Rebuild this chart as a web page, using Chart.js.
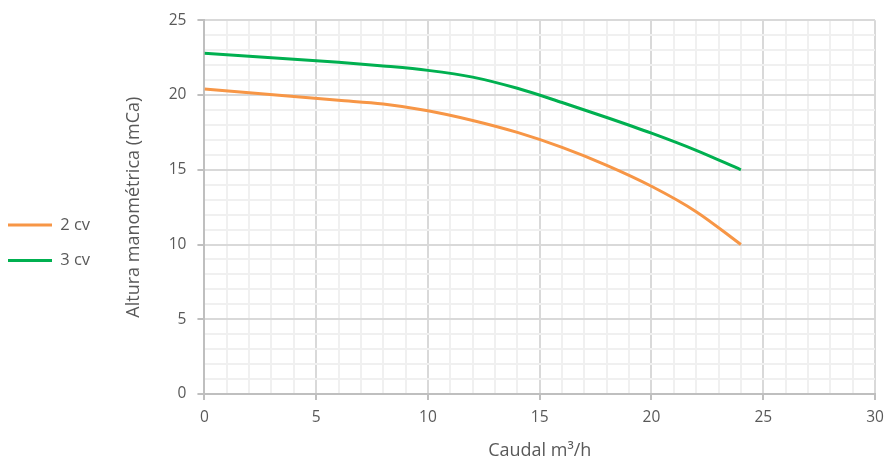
<!DOCTYPE html>
<html>
<head>
<meta charset="utf-8">
<script src="https://cdn.jsdelivr.net/npm/chart.js@4.4.1/dist/chart.umd.min.js"></script>
<style>
  html, body { margin: 0; padding: 0; background: #fff; }
  #wrap { width: 889px; height: 459px; }
</style>
</head>
<body>
<div id="wrap"><canvas id="curvas"></canvas></div>
<script>
// caudal (m3/h) and altura (mCa)
const caudal = [0, 2, 4, 6, 8, 10, 12, 14, 16, 18, 20, 22, 24];
const dosCv  = [20.4, 20.15, 19.9, 19.65, 19.4, 18.95, 18.3, 17.5, 16.5, 15.3, 13.9, 12.2, 10.0];
const tresCv = [22.8, 22.6, 22.4, 22.2, 21.95, 21.65, 21.2, 20.45, 19.5, 18.5, 17.45, 16.3, 15.0];
const seriesNames = ['2 cv', '3 cv'];
const xTicks = [0, 5, 10, 15, 20, 25, 30];
const yTicks = [0, 5, 10, 15, 20, 25];

const toPoints = ys => caudal.map((c, i) => ({ x: c, y: ys[i] }));
const gridColor = ctx => (ctx.tick && ctx.tick.value % 5 === 0) ? '#d9d9d9' : '#f0f0f0';
const tickColor = ctx => (ctx.tick && ctx.tick.value % 5 === 0) ? '#bfbfbf' : 'rgba(0,0,0,0)';
const font = { family: 'Open Sans', size: 15.5 };
const titleFont = { family: 'Open Sans', size: 18 };

// move the legend down / left like in the excel original
const legendShift = {
    id: 'legendShift',
    afterLayout(chart) {
        const lg = chart.legend;
        lg.top += 7; lg.bottom += 7;
        lg.left -= 11; lg.right -= 11;
    }
};

const ctx = document.getElementById('curvas').getContext('2d');
const chart = new Chart(ctx, {
    type: 'line',
    data: {
        datasets: [{
            label: seriesNames[0],
            data: toPoints(dosCv),
            borderColor: '#f79646',
            backgroundColor: '#f79646',
            borderWidth: 3,
            pointRadius: 0,
            tension: 0.4,
            cubicInterpolationMode: 'monotone'
        }, {
            label: seriesNames[1],
            data: toPoints(tresCv),
            borderColor: '#00b050',
            backgroundColor: '#00b050',
            borderWidth: 3,
            pointRadius: 0,
            tension: 0.4,
            cubicInterpolationMode: 'monotone'
        }]
    },
    options: {
        responsive: true,
        maintainAspectRatio: false,
        animation: false,
        layout: { padding: { top: 9.7, right: 14, bottom: -3, left: 0 } },
        plugins: {
            tooltip: { enabled: false },
            legend: {
                position: 'left',
                align: 'center',
                labels: {
                    color: '#595959',
                    font: { family: 'Open Sans', size: 16.5 },
                    boxWidth: 44,
                    boxHeight: 3,
                    padding: 19,
                    generateLabels: c => Chart.defaults.plugins.legend.labels.generateLabels(c)
                        .map(l => Object.assign(l, { lineWidth: 0 }))
                }
            }
        },
        scales: {
            x: {
                type: 'linear',
                min: 0,
                max: 30,
                afterBuildTicks: axis => {
                    axis.ticks = [];
                    for (let v = 0; v <= 30; v++) axis.ticks.push({ value: v });
                },
                afterFit: axis => { axis.paddingRight = 0; axis.paddingLeft = 0; },
                ticks: {
                    autoSkip: false,
                    maxRotation: 0,
                    color: '#595959',
                    font: font,
                    padding: 8,
                    callback: v => xTicks.includes(v) ? v : ''
                },
                grid: { color: gridColor, tickColor: tickColor, lineWidth: 2, tickLength: 6 },
                border: { color: '#bfbfbf', width: 2 },
                title: {
                    display: true,
                    text: 'Caudal m³/h',
                    color: '#595959',
                    font: titleFont,
                    padding: { top: 5.8, bottom: 0 }
                }
            },
            y: {
                type: 'linear',
                min: 0,
                max: 25,
                afterBuildTicks: axis => {
                    axis.ticks = [];
                    for (let v = 0; v <= 25; v++) axis.ticks.push({ value: v });
                },
                ticks: {
                    autoSkip: false,
                    color: '#595959',
                    font: font,
                    padding: 11,
                    callback: v => yTicks.includes(v) ? v : ''
                },
                grid: { color: gridColor, tickColor: tickColor, lineWidth: 2, tickLength: 7 },
                border: { color: '#bfbfbf', width: 2 },
                title: {
                    display: true,
                    text: 'Altura manométrica (mCa)',
                    color: '#595959',
                    font: titleFont,
                    padding: { top: 12, bottom: 13 }
                }
            }
        }
    },
    plugins: [legendShift]
});
</script>
</body>
</html>
